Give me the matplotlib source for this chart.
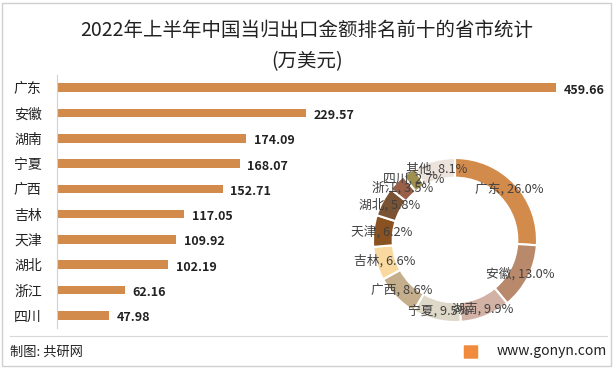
import matplotlib
matplotlib.use('Agg')
import matplotlib.pyplot as plt
from matplotlib.patches import Rectangle, FancyBboxPatch
import numpy as np

plt.rcParams['font.family'] = ['Noto Sans CJK SC', 'DejaVu Sans']

# data
provinces = ["广东", "安徽", "湖南", "宁夏", "广西", "吉林", "天津", "湖北", "浙江", "四川"]
values = [459.66, 229.57, 174.09, 168.07, 152.71, 117.05, 109.92, 102.19, 62.16, 47.98]
other_label = "其他"
other_value = 143.0
pie_colors = ["#D38B4C", "#B8896A", "#D3B2A6", "#DED8C8", "#C5AE8C", "#FAD9A0",
              "#8A5220", "#7A5334", "#9A5F48", "#A09050", "#EDE3DD"]

W, H = 614, 368
fig = plt.figure(figsize=(W / 100, H / 100), dpi=100)

# frame and footer line
fig.patches.append(Rectangle((2 / W, 2 / H), (W - 5) / W, (H - 5) / H, transform=fig.transFigure,
                             fill=False, edgecolor="#D0D0D0", linewidth=1))
fig.add_artist(plt.Line2D([10 / W, 607 / W], [1 - 336 / H, 1 - 336 / H], color="#D8D8D8", lw=0.8))

fig.text(0.5, 1 - 30 / H, "2022年上半年中国当归出口金额排名前十的省市统计", ha="center", va="center",
         fontsize=14, color="#222222")
fig.text(0.5, 1 - 62 / H, "(万美元)", ha="center", va="center", fontsize=14, color="#222222")

fig.text(10 / W, 1 - 352 / H, "制图: 共研网", ha="left", va="center", fontsize=9.5, color="#222222")
fig.text(607 / W, 1 - 351 / H, "www.gonyn.com", ha="right", va="center", fontsize=10, color="#222222")
fig.patches.append(FancyBboxPatch((465 / W, 1 - 358 / H), 12 / W, 12 / H, boxstyle="round,pad=0.002",
                                  transform=fig.transFigure, facecolor="#F08A3C", edgecolor="none"))

# bar chart
ax = fig.add_axes([57 / W, 1 - 328 / H, 543 / W, 253 / H])
y = np.arange(len(provinces))
ax.barh(y, values, height=0.34, color="#D38B4C")
ax.set_ylim(len(provinces) - 0.5, -0.5)
ax.set_xlim(0, 500)
ax.set_yticks(y)
ax.set_yticklabels(provinces, fontsize=10, color="#222222")
ax.tick_params(axis="y", length=0, pad=11)
ax.set_xticks([])
for s in ["top", "right", "bottom"]:
    ax.spines[s].set_visible(False)
ax.spines["left"].set_color("#D0D0D0")
ax.patch.set_alpha(0)
for yi, v in zip(y, values):
    ax.text(v + 7, yi + 0.1, f"{v:.2f}", ha="left", va="center", fontsize=9,
            fontweight="bold", color="#222222")

# donut
pax = fig.add_axes([373 / W, 1 - 322 / H, 164 / W, 164 / H])
pie_labels = provinces + [other_label]
pie_values = values + [other_value]
total = sum(pie_values)
wedges, _ = pax.pie(pie_values, colors=pie_colors, startangle=90, counterclock=False,
                    wedgeprops=dict(width=0.24, edgecolor="white", linewidth=1.5))
pax.set_xlim(-1, 1)
pax.set_ylim(-1, 1)
pax.set_aspect("equal")
pax.axis("off")
for w, lab, v in zip(wedges, pie_labels, pie_values):
    ang = np.deg2rad((w.theta1 + w.theta2) / 2)
    pax.text(0.9 * np.cos(ang), 0.9 * np.sin(ang), f"{lab}, {v / total * 100:.1f}%",
             ha="center", va="center", fontsize=9.2, color="#404040", clip_on=False)

fig.savefig("out.png", dpi=100)
